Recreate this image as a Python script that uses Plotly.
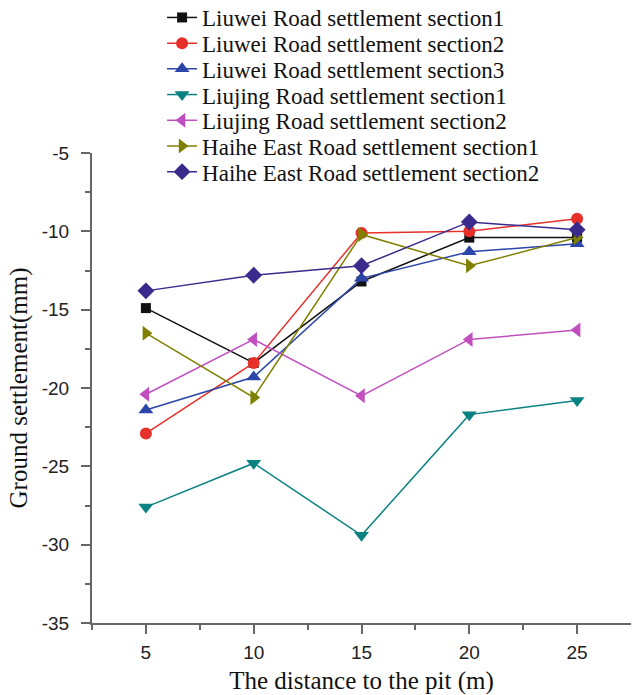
import plotly.graph_objects as go

distance = [5, 10, 15, 20, 25]
names = [
    "Liuwei Road settlement section1",
    "Liuwei Road settlement section2",
    "Liuwei Road settlement section3",
    "Liujing Road settlement section1",
    "Liujing Road settlement section2",
    "Haihe East Road settlement section1",
    "Haihe East Road settlement section2",
]
liuwei_s1 = [-14.9, -18.4, -13.2, -10.4, -10.4]
liuwei_s2 = [-22.9, -18.4, -10.1, -10.0, -9.2]
liuwei_s3 = [-21.4, -19.3, -13.0, -11.3, -10.8]
liujing_s1 = [-27.6, -24.8, -29.4, -21.7, -20.8]
liujing_s2 = [-20.4, -16.9, -20.5, -16.9, -16.3]
haihe_s1 = [-16.5, -20.6, -10.2, -12.2, -10.4]
haihe_s2 = [-13.8, -12.8, -12.2, -9.4, -9.9]
series = [liuwei_s1, liuwei_s2, liuwei_s3, liujing_s1, liujing_s2, haihe_s1, haihe_s2]

y_ticks = [-35, -30, -25, -20, -15, -10, -5]
y_ticklabels = ["-35", "-30", "-25", "-20", "-15", "-10", "-5"]
x_ticklabels = ["5", "10", "15", "20", "25"]

colors = ["#111111", "#e8302a", "#2b45a8", "#0b8282", "#c24fc0", "#808000", "#3a2a8c"]
symbols = ["square", "circle", "triangle-up", "triangle-down", "triangle-left", "triangle-right", "diamond"]
sizes = [10, 12, 13, 13, 13, 13, 13]

# figure geometry
W, H = 632, 695
ML, MR, MT, MB = 92, 1, 153, 72
plot_h = H - MT - MB

legend_font = dict(family="Liberation Serif, Times New Roman, serif", size=23, color="#111111")

fig = go.Figure()
layout_legends = {}
for i, (name, ys, c, s, sz) in enumerate(zip(names, series, colors, symbols, sizes)):
    key = "legend" if i == 0 else f"legend{i + 1}"
    fig.add_trace(go.Scatter(
        x=distance, y=ys, name=name, mode="lines+markers",
        line=dict(color=c, width=1.5),
        marker=dict(symbol=s, size=sz, color=c),
        cliponaxis=False, legend=key,
    ))
    row_center_px = 17.5 + 25.7 * i
    layout_legends[key] = dict(
        x=0.13, y=(H - MB - row_center_px) / plot_h, xanchor="left", yanchor="middle",
        font=legend_font, bgcolor="rgba(0,0,0,0)", borderwidth=0,
    )

axis_color = "#666666"
tickfont = dict(family="Liberation Sans, Arial, sans-serif", size=19, color="#222222")
titlefont = dict(family="Liberation Serif, Times New Roman, serif", size=25, color="#111111")

fig.update_layout(
    width=W, height=H,
    margin=dict(l=ML, r=MR, t=MT, b=MB, autoexpand=False),
    plot_bgcolor="white", paper_bgcolor="white",
    showlegend=True,
    xaxis=dict(
        range=[2.5, 27.5], tickvals=distance, ticktext=x_ticklabels,
        showgrid=False, zeroline=False, showline=True, linecolor=axis_color, linewidth=2,
        ticks="outside", ticklen=9, tickwidth=1.5, tickcolor=axis_color,
        minor=dict(tickvals=[2.5, 7.5, 12.5, 17.5, 22.5], ticks="outside", ticklen=5, tickcolor=axis_color, tickwidth=1.5),
        tickfont=tickfont, ticklabelstandoff=2,
        title=dict(text="The distance to the pit (m)", font=titlefont, standoff=10),
    ),
    yaxis=dict(
        range=[-35, -5], tickvals=y_ticks, ticktext=y_ticklabels,
        showgrid=False, zeroline=False, showline=True, linecolor=axis_color, linewidth=2,
        ticks="outside", ticklen=9, tickwidth=1.5, tickcolor=axis_color,
        minor=dict(tickvals=[-32.5, -27.5, -22.5, -17.5, -12.5, -7.5], ticks="outside", ticklen=5, tickcolor=axis_color, tickwidth=1.5),
        tickfont=tickfont, ticklabelstandoff=8,
        title=dict(text="Ground settlement(mm)", font=titlefont, standoff=7),
    ),
    **layout_legends,
)

fig.write_html("out.html")
